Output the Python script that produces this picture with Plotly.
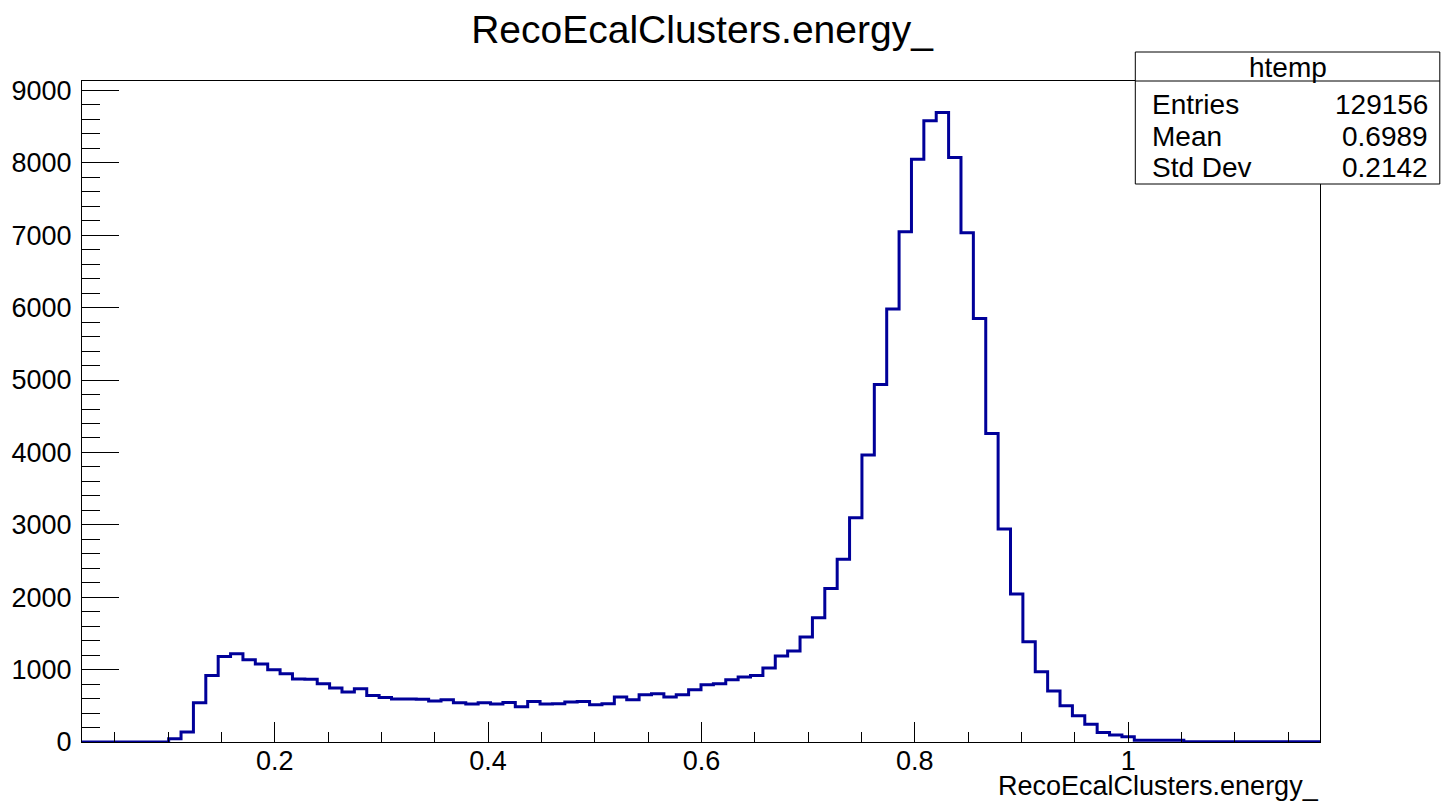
import plotly.graph_objects as go

# ---------------- data ----------------
n_bins = 100
x_low = 0.0194
x_high = 1.1797
counts = [
    0, 0, 0, 0, 0, 0, 0, 46, 138, 543,
    920, 1182, 1219, 1136, 1076, 998, 943, 869, 866, 805,
    745, 690, 736, 644, 616, 593, 595, 590, 566, 584,
    543, 524, 543, 524, 547, 488, 561, 524, 527, 552,
    561, 515, 529, 621, 584, 653, 667, 621, 653, 722,
    791, 805, 860, 897, 920, 1021, 1187, 1256, 1449, 1717,
    2122, 2523, 3098, 3963, 4940, 5980, 7048, 8051, 8580, 8696,
    8074, 7034, 5851, 4263, 2942, 2044, 1385, 971, 704, 502,
    364, 244, 130, 95, 72, 23, 23, 23, 23, 2,
    2, 2, 2, 2, 2, 2, 2, 2, 2, 2,
]
x_tick_vals = [0.2, 0.4, 0.6, 0.8, 1.0]
x_tick_text = ["0.2", "0.4", "0.6", "0.8", "1"]
y_tick_vals = [0, 1000, 2000, 3000, 4000, 5000, 6000, 7000, 8000, 9000]
y_tick_text = ["0", "1000", "2000", "3000", "4000", "5000", "6000", "7000", "8000", "9000"]
title_text = "RecoEcalClusters.energy_"
x_title = "RecoEcalClusters.energy_"
stats_name = "htemp"
stats_labels = ["Entries", "Mean", "Std Dev"]
stats_values = ["129156", "0.6989", "0.2142"]

# ---------------- figure ----------------
W, H = 1441, 802
L, R, T, B = 80, 1320, 81, 742
FONT = "Liberation Sans, Arial, Helvetica, sans-serif"

bw = (x_high - x_low) / n_bins
edges = [x_low + i * bw for i in range(n_bins + 1)]
xs = edges
ys = counts + [counts[-1]]

fig = go.Figure()
fig.add_trace(go.Scatter(
    x=xs, y=ys, mode="lines", line_shape="hv",
    line=dict(color="#000099", width=3),
    hoverinfo="skip", showlegend=False,
))

y_max = 1.05 * max(counts)


def px2paper_x(px):
    return (px - L) / (R - L)


def py2paper_y(py):
    return (B - py) / (B - T)


fig.update_layout(
    width=W, height=H,
    margin=dict(l=L, r=W - R, t=T, b=H - B, pad=0),
    paper_bgcolor="white", plot_bgcolor="white",
    font=dict(family=FONT, color="black"),
    title=dict(text=title_text, x=702 / W, xanchor="center", xref="container",
               y=1 - 29 / H, yanchor="middle", yref="container",
               font=dict(size=39, family=FONT, color="black")),
    xaxis=dict(
        range=[x_low, x_high], showgrid=False, zeroline=False,
        showline=True, linecolor="black", linewidth=1, mirror=True,
        ticks="inside", ticklen=20, tickwidth=1, tickcolor="black",
        tickvals=x_tick_vals, ticktext=x_tick_text,
        tickfont=dict(size=27, family=FONT, color="black"),
        ticklabelstandoff=-5,
        minor=dict(dtick=0.05, tick0=0, ticks="inside", ticklen=10,
                   tickwidth=1, tickcolor="black", showgrid=False),
    ),
    yaxis=dict(
        range=[0, y_max], showgrid=False, zeroline=False,
        showline=True, linecolor="black", linewidth=1, mirror=True,
        ticks="inside", ticklen=37, tickwidth=1, tickcolor="black",
        tickvals=y_tick_vals, ticktext=y_tick_text,
        tickfont=dict(size=27, family=FONT, color="black"),
        ticklabelstandoff=4,
        minor=dict(dtick=200, tick0=0, ticks="inside", ticklen=18,
                   tickwidth=1, tickcolor="black", showgrid=False),
    ),
)

# x axis title, right aligned
fig.add_annotation(
    text=x_title, xref="paper", yref="paper",
    x=1, xanchor="right", y=py2paper_y(786), yanchor="middle",
    showarrow=False, borderpad=0,
    font=dict(size=27, family=FONT, color="black"),
)

# stats box
bx0, bx1, by0, by1, bsep = 1135, 1440, 52, 184, 81
fig.add_shape(type="rect", xref="paper", yref="paper",
              x0=px2paper_x(bx0), x1=px2paper_x(bx1),
              y0=py2paper_y(by1), y1=py2paper_y(by0),
              line=dict(color="black", width=1), fillcolor="white", layer="above")
fig.add_shape(type="line", xref="paper", yref="paper",
              x0=px2paper_x(bx0), x1=px2paper_x(bx1),
              y0=py2paper_y(bsep), y1=py2paper_y(bsep),
              line=dict(color="black", width=1), layer="above")
fig.add_annotation(text=stats_name, xref="paper", yref="paper",
                   x=px2paper_x((bx0 + bx1) / 2), xanchor="center",
                   y=py2paper_y(67), yanchor="middle", showarrow=False,
                   font=dict(size=28, family=FONT, color="black"))
row_y = [104, 136, 167]
for lab, val, ry in zip(stats_labels, stats_values, row_y):
    fig.add_annotation(text=lab, xref="paper", yref="paper",
                       x=px2paper_x(1150), xanchor="left",
                       y=py2paper_y(ry), yanchor="middle", showarrow=False,
                       font=dict(size=28, family=FONT, color="black"))
    fig.add_annotation(text=val, xref="paper", yref="paper",
                       x=px2paper_x(1430), xanchor="right",
                       y=py2paper_y(ry), yanchor="middle", showarrow=False,
                       font=dict(size=28, family=FONT, color="black"))

fig.write_html("out.html")
